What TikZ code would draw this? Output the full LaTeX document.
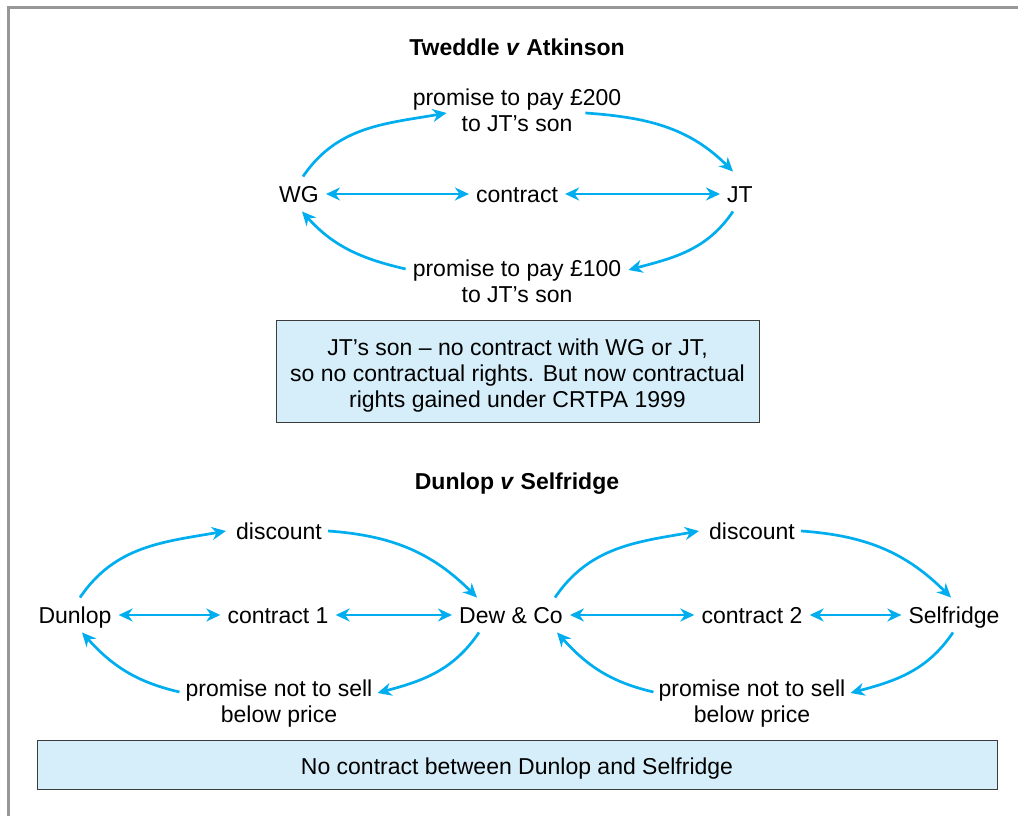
\documentclass[tikz,border=0pt]{standalone}
\usepackage{fontspec}
\setmainfont{Liberation Sans}
\usetikzlibrary{arrows.meta}

\definecolor{flowblue}{HTML}{00AEEF}
\definecolor{notefill}{HTML}{D5EEF9}
\definecolor{notedraw}{HTML}{3C3C3C}
\definecolor{framegray}{HTML}{979797}

\newcommand\casesize{\fontsize{23}{26}\selectfont}
\newcommand\notestrut{\rule{0pt}{22.8pt}}

\tikzset{
  party/.style={inner xsep=7pt, inner ysep=9pt, text height=16.5pt, text depth=0pt},
  deal/.style={party},
  terms/.style={inner sep=0pt, align=center},
  flow/.style={draw=flowblue, line width=2.7pt, -{Stealth[length=14pt,width=13pt,inset=4.5pt]}},
  bothflow/.style={flow, {Stealth[length=14pt,width=13pt,inset=4.5pt]}-{Stealth[length=14pt,width=13pt,inset=4.5pt]}},
  notebox/.style={draw=notedraw, fill=notefill, line width=1pt, align=center},
  casetitle/.style={font=\casesize\bfseries},
  upper/.style={out=56, in=190},
  across/.style={out=-4, in=135},
  lower/.style={out=-124, in=15},
  back/.style={out=167, in=-48}
}

\begin{document}
\begin{tikzpicture}[x=1pt, y=1pt, every node/.style={font=\casesize}]
\useasboundingbox (0,0) rectangle (1018,816);
\draw[framegray, line width=3pt] (8.5,0) -- (8.5,808.5) -- (1018,808.5);

% Tweddle v Atkinson
\node[casetitle] (title1) at (517,769) {Tweddle \textit{v} Atkinson};
\node[terms] (pay200) at (517,706) {promise to pay £200\\to JT’s son};
\node[party] (WG) at (299,622) {WG};
\node[deal] (contract0) at (517,622) {contract};
\node[party] (JT) at (740,622) {JT};
\node[terms] (pay100) at (517,535) {promise to pay £100\\to JT’s son};
\node[notebox, minimum width=483pt, minimum height=102pt] (note1) at (517.5,444)
  {\notestrut JT’s son – no contract with WG or JT,\\so no contractual rights. But now contractual\\rights gained under CRTPA 1999};

% Dunlop v Selfridge
\node[casetitle] (title2) at (517,332) {Dunlop \textit{v} Selfridge};
\node[terms] (discount1) at (279,285) {discount};
\node[terms] (discount2) at (752,285) {discount};
\node[party] (Dunlop) at (75,201) {Dunlop};
\node[deal] (contract1) at (278,201) {contract 1};
\node[party] (Dew) at (511,201) {Dew \& Co};
\node[deal] (contract2) at (752,201) {contract 2};
\node[party] (Selfridge) at (954,201) {Selfridge};
\node[terms] (noprice1) at (279,112) {promise not to sell\\below price};
\node[terms] (noprice2) at (752,112) {promise not to sell\\below price};
\node[notebox, minimum width=960pt, minimum height=49pt] (note2) at (517,50.5)
  {\notestrut No contract between Dunlop and Selfridge};

\draw[flow] ([xshift=4pt]WG.north) to[upper] ([xshift=34pt,yshift=-3pt]pay200.west);
\draw[flow] ([xshift=-36pt,yshift=-3pt]pay200.east) to[across] ([xshift=-7pt,yshift=5pt]JT.north);
\draw[flow] ([xshift=-7pt]JT.south) to[lower] ([xshift=7pt,yshift=11pt]pay100.east);
\draw[flow] ([xshift=-7pt,yshift=12pt]pay100.west) to[back] ([xshift=3pt]WG.south);
\draw[bothflow] (WG) -- (contract0);
\draw[bothflow] (contract0) -- (JT);

\draw[flow] ([xshift=5pt]Dunlop.north) to[upper] ([xshift=-10pt]discount1.west);
\draw[flow] ([xshift=6pt]discount1.east) to[across] ([xshift=-34pt]Dew.north);
\draw[flow] ([xshift=-32pt]Dew.south) to[lower] ([xshift=5pt,yshift=11pt]noprice1.east);
\draw[flow] ([xshift=-6pt,yshift=12pt]noprice1.west) to[back] ([xshift=7pt]Dunlop.south);
\draw[flow] ([xshift=44pt]Dew.north) to[upper] ([xshift=-10pt]discount2.west);
\draw[flow] ([xshift=6pt]discount2.east) to[across] ([xshift=-3pt]Selfridge.north);
\draw[flow] ([xshift=-1pt]Selfridge.south) to[lower] ([xshift=5pt,yshift=11pt]noprice2.east);
\draw[flow] ([xshift=-5pt,yshift=12pt]noprice2.west) to[back] ([xshift=46pt]Dew.south);
\draw[bothflow] (Dunlop) -- (contract1);
\draw[bothflow] (contract1) -- (Dew);
\draw[bothflow] (Dew) -- (contract2);
\draw[bothflow] (contract2) -- (Selfridge);
\end{tikzpicture}
\end{document}
